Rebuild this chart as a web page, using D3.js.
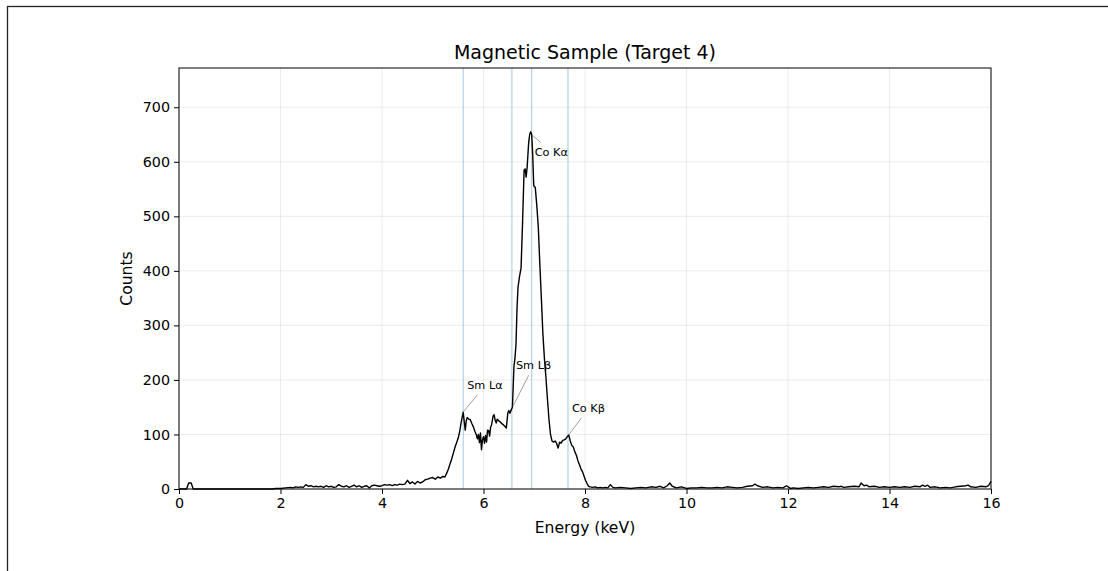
<!DOCTYPE html>
<html>
<head>
<meta charset="utf-8">
<script src="https://cdn.jsdelivr.net/npm/d3@7"></script>
<style>
  body { margin: 0; background: #fff; }
  svg { display: block; font-family: "DejaVu Sans", sans-serif; }
</style>
</head>
<body>
<div id="chart"></div>
<script>
// spectrum as [energy keV, counts]
var spectrum = [
  [0,0],[0.15,0],[0.19,11],[0.24,11],[0.28,0],[1.85,0],[1.9,1],[2.0,1],[2.1,2],[2.2,3],
  [2.25,2],[2.3,4],[2.35,3],[2.4,4],[2.45,3],[2.5,8],[2.55,5],[2.6,6],[2.65,4],[2.7,5],
  [2.75,4],[2.8,5],[2.85,3],[2.9,6],[2.95,4],[3.0,5],[3.05,3],[3.1,4],[3.15,8],[3.2,5],
  [3.25,4],[3.3,6],[3.35,3],[3.4,5],[3.45,7],[3.5,4],[3.55,6],[3.6,3],[3.65,5],[3.7,6],
  [3.75,2],[3.8,6],[3.85,7],[3.9,6],[3.95,5],[4.0,6],[4.05,8],[4.1,7],[4.15,8],[4.2,6],
  [4.25,8],[4.3,7],[4.35,9],[4.4,8],[4.45,9],[4.5,16],[4.55,10],[4.6,13],[4.65,9],[4.7,14],
  [4.75,11],[4.8,13],[4.85,17],[4.9,18],[4.95,20],[5.0,21],[5.05,18],[5.1,22],[5.15,20],[5.2,23],
  [5.24,22],[5.28,30],[5.31,37],[5.34,46],[5.37,54],[5.40,64],[5.44,77],[5.47,85],[5.50,93],[5.53,105],
  [5.56,122],[5.60,141],[5.62,124],[5.64,108],[5.66,125],[5.68,131],[5.71,128],[5.74,127],[5.77,120],[5.80,114],
  [5.83,106],[5.86,99],[5.88,92],[5.90,100],[5.92,85],[5.94,103],[5.96,72],[5.98,90],[6.00,96],[6.02,84],
  [6.04,98],[6.06,86],[6.08,108],[6.10,107],[6.12,97],[6.14,113],[6.16,118],[6.19,134],[6.21,136],[6.23,126],
  [6.25,121],[6.27,128],[6.30,125],[6.33,123],[6.36,120],[6.39,118],[6.42,115],[6.45,112],[6.48,140],[6.50,144],
  [6.52,139],[6.55,146],[6.57,150],[6.60,225],[6.62,240],[6.64,265],[6.66,330],[6.68,370],[6.71,390],[6.74,405],
  [6.77,490],[6.80,585],[6.82,587],[6.84,572],[6.86,590],[6.89,635],[6.91,650],[6.93,655],[6.95,650],[6.97,612],
  [6.99,556],[7.02,553],[7.05,520],[7.08,480],[7.11,412],[7.14,350],[7.17,285],[7.20,240],[7.23,205],[7.26,165],
  [7.29,128],[7.32,100],[7.35,88],[7.38,86],[7.41,88],[7.44,84],[7.47,75],[7.50,86],[7.53,84],[7.56,89],
  [7.59,90],[7.62,92],[7.65,96],[7.68,99],[7.71,88],[7.74,80],[7.77,77],[7.80,68],[7.83,62],[7.86,52],
  [7.89,45],[7.92,37],[7.95,32],[7.98,24],[8.01,16],[8.04,10],[8.07,5],[8.10,4],[8.15,3],[8.2,4],
  [8.25,2],[8.3,3],[8.35,2],[8.4,3],[8.45,2],[8.5,8],[8.55,3],[8.6,2],[8.7,3],[8.8,2],
  [8.9,1],[9.0,2],[9.1,3],[9.2,2],[9.3,4],[9.4,3],[9.48,5],[9.55,2],[9.62,6],[9.67,11],
  [9.72,5],[9.8,2],[9.9,4],[10.0,1],[10.1,2],[10.2,2],[10.3,3],[10.4,2],[10.5,2],[10.6,3],
  [10.7,2],[10.8,4],[10.9,3],[11.0,2],[11.1,3],[11.2,5],[11.3,6],[11.35,9],[11.4,6],[11.5,3],
  [11.6,4],[11.7,2],[11.8,3],[11.9,2],[11.97,6],[12.05,1],[12.1,2],[12.2,1],[12.3,2],[12.4,3],
  [12.5,2],[12.6,3],[12.7,4],[12.8,3],[12.9,5],[13.0,4],[13.05,5],[13.1,3],[13.2,4],[13.3,5],
  [13.4,4],[13.44,11],[13.5,6],[13.55,7],[13.6,4],[13.7,5],[13.8,3],[13.9,4],[14.0,3],[14.1,4],
  [14.2,3],[14.3,4],[14.4,3],[14.5,5],[14.6,4],[14.65,7],[14.7,5],[14.75,7],[14.8,3],[14.9,4],
  [15.0,2],[15.1,3],[15.2,2],[15.3,4],[15.4,5],[15.5,6],[15.55,7],[15.6,4],[15.7,3],[15.8,5],
  [15.9,4],[15.95,6],[16.0,14]
];

var line_labels   = ["Sm L\u03b1", "Sm L\u03b2", "Co K\u03b1", "Co K\u03b2"];
var line_energies = [5.60, 6.56, 6.95, 7.665];

var x_ticks = [0, 2, 4, 6, 8, 10, 12, 14, 16];
var y_ticks = [0, 100, 200, 300, 400, 500, 600, 700];

var width  = 1108,
    height = 571,
    margin = {top: 68, right: 117, bottom: 82, left: 179};
var plot_w = width - margin.left - margin.right,
    plot_h = height - margin.top - margin.bottom;

var svg = d3.select("#chart").append("svg")
  .attr("width", width)
  .attr("height", height);

svg.append("rect").attr("width", width).attr("height", height).attr("fill", "#fff");

// outer frame of the cropped figure
svg.append("rect")
  .attr("x", 7.5).attr("y", 6.5)
  .attr("width", 1300).attr("height", 900)
  .attr("fill", "none")
  .attr("stroke", "#222")
  .attr("stroke-width", 1.3);

var x = d3.scaleLinear().domain([0, 16]).range([0, plot_w]);
var y = d3.scaleLinear().domain([0, 772]).range([plot_h, 0]);

var g = svg.append("g").attr("transform", "translate(" + margin.left + "," + margin.top + ")");

// grid
g.append("g").selectAll("line").data(x_ticks).join("line")
  .attr("x1", d => x(d)).attr("x2", d => x(d))
  .attr("y1", 0).attr("y2", plot_h)
  .attr("stroke", "#b0b0b0").attr("stroke-opacity", 0.3).attr("stroke-width", 0.8);
g.append("g").selectAll("line").data(y_ticks).join("line")
  .attr("x1", 0).attr("x2", plot_w)
  .attr("y1", d => y(d)).attr("y2", d => y(d))
  .attr("stroke", "#b0b0b0").attr("stroke-opacity", 0.3).attr("stroke-width", 0.8);

// emission lines
g.append("g").selectAll("line").data(line_energies).join("line")
  .attr("x1", d => x(d)).attr("x2", d => x(d))
  .attr("y1", 0).attr("y2", plot_h)
  .attr("stroke", "#1f77b4").attr("stroke-opacity", 0.4).attr("stroke-width", 1);

// spectrum
var line = d3.line()
  .x(d => x(d[0]))
  .y(d => y(d[1]));

g.append("path")
  .datum(spectrum)
  .attr("d", line)
  .attr("fill", "none")
  .attr("stroke", "#000")
  .attr("stroke-width", 1.4)
  .attr("stroke-linejoin", "round");

// annotations
function counts_at (e) {
  var i = d3.bisector(d => d[0]).left(spectrum, e);
  if (i <= 0) return spectrum[0][1];
  var a = spectrum[i - 1], b = spectrum[i];
  return a[1] + (b[1] - a[1]) * (e - a[0]) / (b[0] - a[0]);
}
var label_offsets = [[4, -23], [4, -39], [3, 21], [4, -24]];

line_labels.forEach(function (lab, i) {
  var px = x(line_energies[i]), py = y(counts_at(line_energies[i]));
  var t = g.append("text")
    .attr("x", px + label_offsets[i][0])
    .attr("y", py + label_offsets[i][1])
    .attr("font-size", "11.3px")
    .attr("fill", "#000")
    .text(lab);
  var bb = t.node().getBBox();
  var pad = 3;
  var cx = bb.x + bb.width / 2, cy = bb.y + bb.height / 2;
  var dx = cx - px, dy = cy - py;
  // clip to padded text box
  var tx = dx !== 0 ? ((dx > 0 ? bb.x - pad : bb.x + bb.width + pad) - px) / dx : Infinity;
  var ty = dy !== 0 ? ((dy > 0 ? bb.y - pad : bb.y + bb.height + pad) - py) / dy : Infinity;
  var tt = Math.max(Math.min(1, Math.max(tx, ty)), 0);
  g.insert("line", "text")
    .attr("x1", px + dx * 0.04).attr("y1", py + dy * 0.04)
    .attr("x2", px + dx * tt).attr("y2", py + dy * tt)
    .attr("stroke", "#888").attr("stroke-width", 0.8);
});

// axes
var x_axis = g.append("g")
  .attr("transform", "translate(0," + plot_h + ")")
  .call(d3.axisBottom(x).tickValues(x_ticks).tickSize(5).tickPadding(4).tickSizeOuter(0));
var y_axis = g.append("g")
  .call(d3.axisLeft(y).tickValues(y_ticks).tickSize(5).tickPadding(4).tickSizeOuter(0));
[x_axis, y_axis].forEach(function (a) {
  a.select(".domain").remove();
  a.selectAll("text").attr("font-size", "14.3px").attr("fill", "#000").attr("font-family", "DejaVu Sans, sans-serif");
  a.selectAll("line").attr("stroke", "#000").attr("stroke-width", 1);
});

g.append("rect")
  .attr("width", plot_w).attr("height", plot_h)
  .attr("fill", "none").attr("stroke", "#000").attr("stroke-width", 1);

// labels
svg.append("text")
  .attr("x", margin.left + plot_w / 2).attr("y", 59)
  .attr("text-anchor", "middle")
  .attr("font-size", "19px")
  .text("Magnetic Sample (Target 4)");
svg.append("text")
  .attr("x", margin.left + plot_w / 2).attr("y", 533)
  .attr("text-anchor", "middle")
  .attr("font-size", "15.6px")
  .text("Energy (keV)");
svg.append("text")
  .attr("transform", "translate(132," + (margin.top + plot_h / 2) + ") rotate(-90)")
  .attr("text-anchor", "middle")
  .attr("font-size", "15.6px")
  .text("Counts");
</script>
</body>
</html>
